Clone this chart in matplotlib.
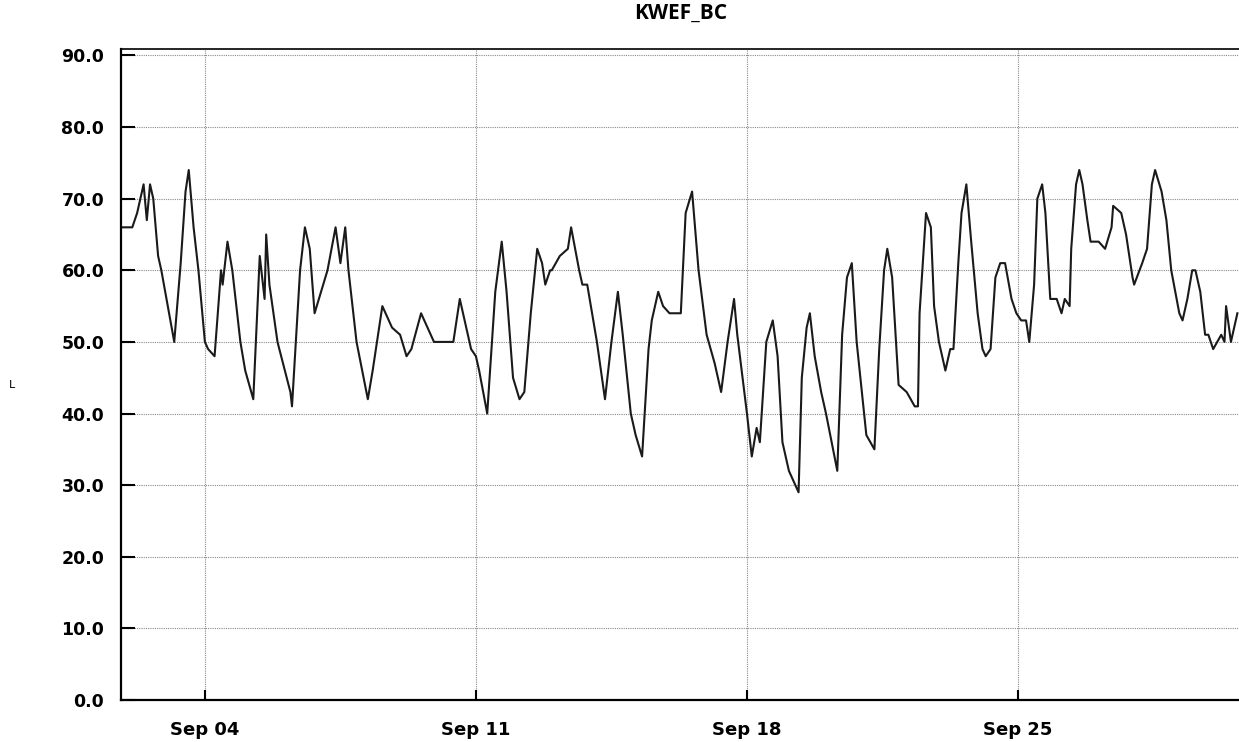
import numpy as np
import pandas as pd
import matplotlib
matplotlib.use("Agg")
import matplotlib.pyplot as plt
import matplotlib.dates as mdates

# hours since Sep 01 00:00, and the value read at that hour
hours = [20, 27, 30, 34, 36, 38, 40, 43, 45, 49,
         53, 57, 60, 62, 65, 68, 70, 72, 74, 78,
         80, 82, 83, 86, 89, 94, 97, 102, 105, 106,
         109, 110, 112, 117, 125, 126, 131, 134, 137, 140,
         144, 148, 153, 156, 159, 161, 166, 173, 176, 182,
         188, 193, 197, 200, 206, 210, 214, 226, 230, 234,
         237, 240, 242, 247, 252, 256, 259, 263, 267, 270,
         274, 278, 281, 283, 286, 287, 292, 297, 299, 304,
         306, 309, 315, 320, 324, 328, 331, 336, 339, 343,
         347, 349, 353, 356, 360, 367, 370, 374, 378, 383,
         388, 392, 396, 400, 402, 408, 411, 414, 416, 420,
         424, 427, 430, 434, 440, 442, 445, 447, 450, 454,
         457, 464, 467, 470, 473, 476, 482, 487, 490, 493,
         495, 498, 502, 507, 512, 514, 515, 519, 522, 524,
         527, 531, 534, 536, 539, 541, 544, 547, 551, 554,
         556, 559, 562, 565, 568, 572, 575, 578, 581, 583,
         586, 588, 591, 593, 596, 600, 603, 605, 608, 609,
         612, 614, 616, 619, 621, 626, 630, 634, 635, 640,
         643, 647, 648, 653, 656, 659, 661, 665, 668, 671,
         676, 678, 681, 684, 686, 689, 692, 694, 697, 702,
         704, 705, 708, 711, 712]
values = [66, 66, 68, 72, 67, 72, 70, 62, 60, 55,
          50, 61, 71, 74, 66, 60, 55, 50, 49, 48,
          54, 60, 58, 64, 60, 50, 46, 42, 57, 62,
          56, 65, 58, 50, 43, 41, 60, 66, 63, 54,
          57, 60, 66, 61, 66, 60, 50, 42, 46, 55,
          52, 51, 48, 49, 54, 52, 50, 50, 56, 52,
          49, 48, 46, 40, 57, 64, 57, 45, 42, 43,
          54, 63, 61, 58, 60, 60, 62, 63, 66, 60,
          58, 58, 50, 42, 50, 57, 51, 40, 37, 34,
          49, 53, 57, 55, 54, 54, 68, 71, 60, 51,
          47, 43, 50, 56, 51, 40, 34, 38, 36, 50,
          53, 48, 36, 32, 29, 45, 52, 54, 48, 43,
          40, 32, 51, 59, 61, 50, 37, 35, 49, 60,
          63, 59, 44, 43, 41, 41, 54, 68, 66, 55,
          50, 46, 49, 49, 61, 68, 72, 64, 54, 49,
          48, 49, 59, 61, 61, 56, 54, 53, 53, 50,
          58, 70, 72, 68, 56, 56, 54, 56, 55, 63,
          72, 74, 72, 67, 64, 64, 63, 66, 69, 68,
          65, 59, 58, 61, 63, 72, 74, 71, 67, 60,
          54, 53, 56, 60, 60, 57, 51, 51, 49, 51,
          50, 55, 50, 53, 54]

start = pd.Timestamp("2021-09-01")
times = start + pd.to_timedelta(hours, unit="h")

fig = plt.figure(figsize=(12.39, 7.42), dpi=100)
ax = fig.add_axes([121 / 1239, 42 / 742, 1 - 121 / 1239, 651 / 742])

ax.plot(times, values, color="#1a1a1a", lw=1.5)

ax.set_xlim(start + pd.Timedelta(hours=20), start + pd.Timedelta(hours=713))
ax.set_ylim(0, 90.9)
ax.set_yticks(np.arange(0, 91, 10))
ax.yaxis.set_major_formatter(plt.FormatStrFormatter("%.1f"))
ax.xaxis.set_major_locator(mdates.DayLocator(bymonthday=[4, 11, 18, 25]))
ax.xaxis.set_major_formatter(mdates.DateFormatter("%b %d"))

ax.grid(True, color="#8a8a8a", linestyle=(0, (1, 1)), lw=0.8)
ax.tick_params(axis="y", direction="in", length=10, width=1.5, pad=12)
ax.tick_params(axis="x", direction="in", length=7, width=1.5, pad=15)
for lab in ax.get_yticklabels():
    lab.set_fontsize(12.5)
    lab.set_fontweight("bold")
for lab in ax.get_xticklabels():
    lab.set_fontsize(13)
    lab.set_fontweight("bold")

ax.spines["right"].set_visible(False)
ax.spines["left"].set_linewidth(1.6)
ax.spines["bottom"].set_linewidth(1.6)
ax.spines["top"].set_linewidth(1.2)

fig.text(0.549, 1 - 13 / 742, "KWEF_BC", ha="center", va="center",
         fontsize=15, fontweight="bold", family="Open Sans")
fig.text(12 / 1239, 1 - 385 / 742, "L", ha="center", va="center", fontsize=8)

fig.savefig("out.png", dpi=100)
